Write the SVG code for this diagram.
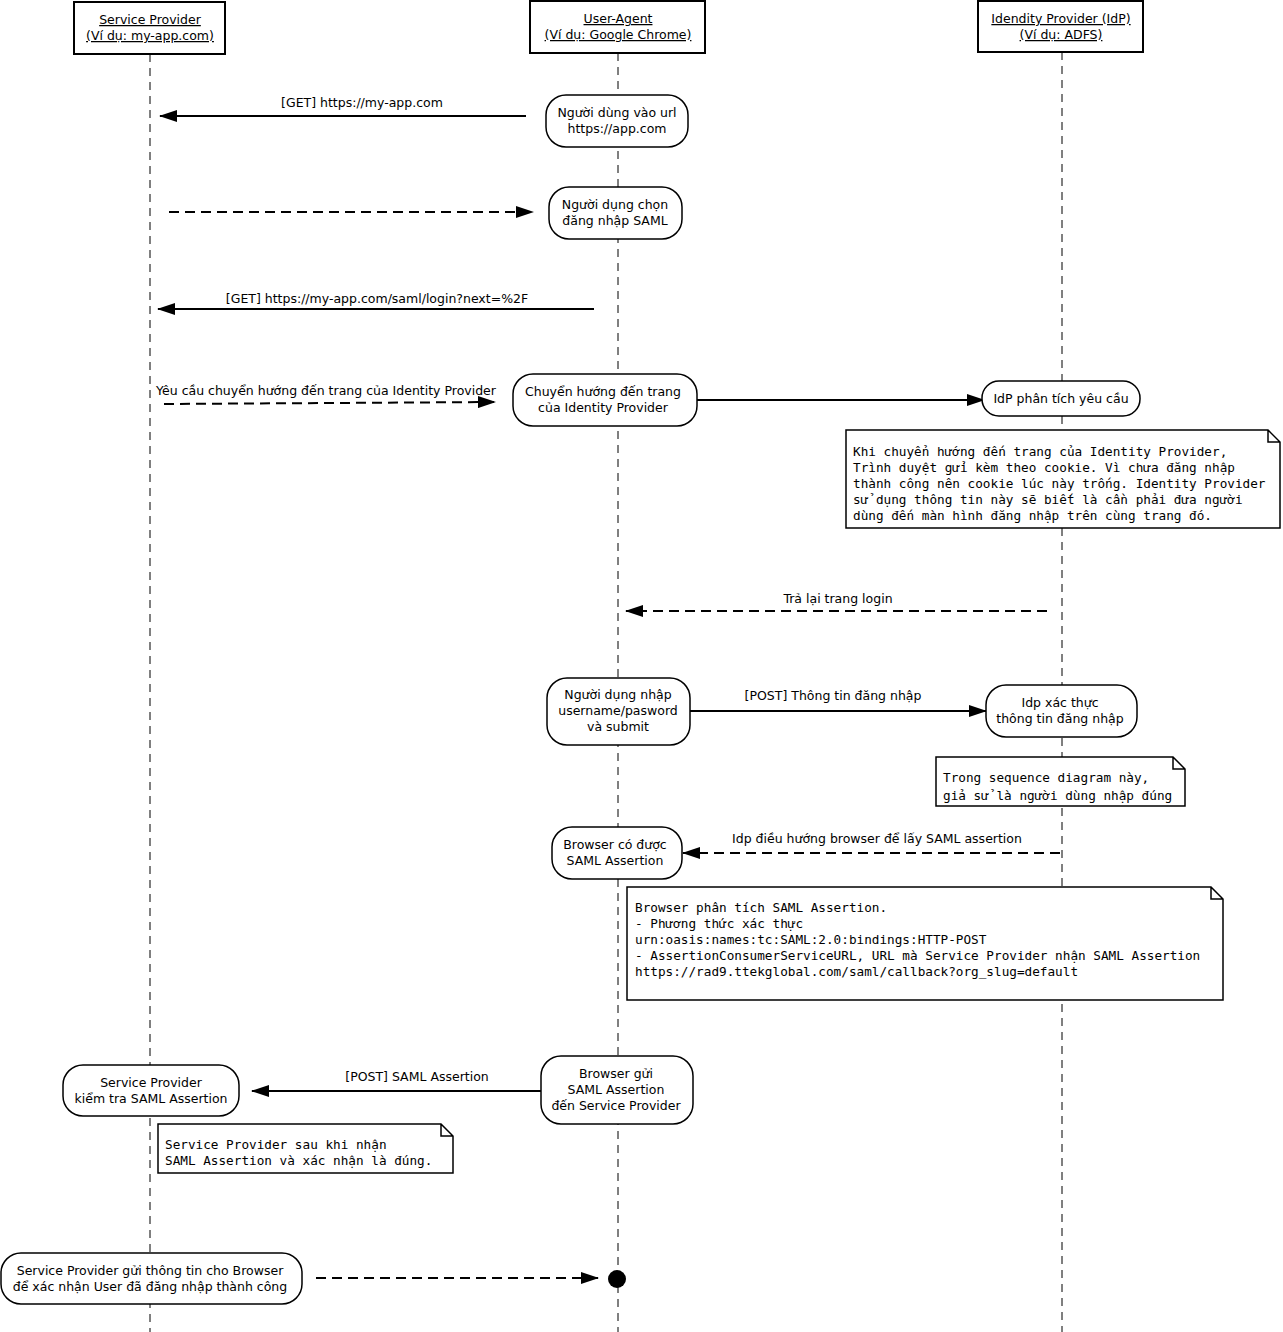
<svg xmlns="http://www.w3.org/2000/svg" width="1283" height="1332" viewBox="0 0 1283 1332">
<style>
text{font-family:"DejaVu Sans",sans-serif;font-size:12.5px;fill:#000;text-anchor:middle}
.h{text-decoration:underline}
.m{font-family:"DejaVu Sans Mono",monospace;font-size:12.7px;text-anchor:start}
.life{stroke:#000;stroke-width:1;stroke-dasharray:8,6;fill:none}
.box{fill:#fff;stroke:#000;stroke-width:2}
.node{fill:#fff;stroke:#000;stroke-width:1.5}
.note{fill:#fff;stroke:#000;stroke-width:1.5}
.s{stroke:#000;stroke-width:2;fill:none;marker-end:url(#a)}
.d{stroke:#000;stroke-width:2;fill:none;stroke-dasharray:10,6;marker-end:url(#a)}
</style>
<defs><marker id="a" markerWidth="18" markerHeight="12" refX="17" refY="6" orient="auto" markerUnits="userSpaceOnUse"><path d="M0,0 L18,6 L0,12 z" fill="#000"/></marker></defs>
<rect width="1283" height="1332" fill="#fff"/>
<g id="lifelines">
<line class="life" x1="150" y1="54" x2="150" y2="1332"/>
<line class="life" x1="618" y1="53" x2="618" y2="1332"/>
<line class="life" x1="1062" y1="52" x2="1062" y2="1332"/>
</g>
<g id="sp"><rect class="box" x="74" y="2" width="151" height="52"/><text class="h" x="150" y="24">Service Provider</text><text class="h" x="150" y="40">(Ví dụ: my-app.com)</text></g>
<g id="ua"><rect class="box" x="530" y="1" width="175" height="52"/><text class="h" x="618" y="23">User-Agent</text><text class="h" x="618" y="39">(Ví dụ: Google Chrome) </text></g>
<g id="idp"><rect class="box" x="978" y="1" width="165" height="51"/><text class="h" x="1061" y="23">Idendity Provider (IdP)</text><text class="h" x="1061" y="39">(Ví dụ: ADFS)</text></g>
<g id="connectors">
<line class="s" x1="526" y1="116" x2="160" y2="116"/>
<line class="d" x1="169" y1="212" x2="533" y2="212"/>
<line class="s" x1="594" y1="309" x2="158" y2="309"/>
<line class="d" x1="164" y1="404" x2="495" y2="402"/>
<line class="s" x1="697" y1="400" x2="984" y2="400"/>
<line class="d" x1="1047" y1="611" x2="626" y2="611"/>
<line class="s" x1="690" y1="711" x2="986" y2="711"/>
<line class="d" x1="1060" y1="853" x2="683" y2="853"/>
<line class="s" x1="541" y1="1091" x2="252" y2="1091"/>
<line class="d" x1="316" y1="1278" x2="598" y2="1278"/>
<text x="362" y="107">[GET] https://my-app.com</text>
<text x="377" y="303">[GET] https://my-app.com/saml/login?next=%2F</text>
<text x="326" y="395">Yêu cầu chuyển hướng đến trang của Identity Provider</text>
<text x="838" y="603">Trả lại trang login</text>
<text x="833" y="700">[POST] Thông tin đăng nhập</text>
<text x="877" y="843">Idp điều hướng browser để lấy SAML assertion</text>
<text x="417" y="1081">[POST] SAML Assertion</text>
</g>
<g id="n1"><rect class="node" x="546" y="95" width="142" height="52" rx="20"/><text x="617" y="117">Người dùng vào url</text><text x="617" y="133">https://app.com</text></g>
<g id="n2"><rect class="node" x="549" y="187" width="133" height="52" rx="20"/><text x="615" y="209">Người dụng chọn</text><text x="615" y="225">đăng nhập SAML</text></g>
<g id="n3"><rect class="node" x="513" y="374" width="184" height="52" rx="20"/><text x="603" y="396">Chuyển hướng đến trang</text><text x="603" y="412">của  Identity Provider</text></g>
<g id="n4"><rect class="node" x="982" y="381" width="158" height="35" rx="17"/><text x="1061" y="403">IdP phân tích yêu cầu</text></g>
<g id="note1"><path class="note" d="M846,430 H1268 L1280,442 V528 H846 Z M1268,430 V442 H1280"/>
<text class="m" x="853" y="456">Khi chuyển hướng đến trang của Identity Provider,</text>
<text class="m" x="853" y="472">Trình duyệt gửi kèm theo cookie. Vì chưa đăng nhập</text>
<text class="m" x="853" y="488">thành công nên cookie lúc này trống. Identity Provider</text>
<text class="m" x="853" y="504">sử dụng thông tin này sẽ biết là cần phải đưa người</text>
<text class="m" x="853" y="520">dùng đến màn hình đăng nhập trên cùng trang đó.</text></g>
<g id="n5"><rect class="node" x="547" y="678" width="143" height="67" rx="20"/><text x="618" y="699">Người dụng nhập</text><text x="618" y="715">username/pasword</text><text x="618" y="731">và submit</text></g>
<g id="n6"><rect class="node" x="986" y="685" width="151" height="52" rx="20"/><text x="1060" y="707">Idp xác thực</text><text x="1060" y="723">thông tin đăng nhập</text></g>
<g id="note2"><path class="note" d="M936,757 H1173 L1185,769 V806 H936 Z M1173,757 V769 H1185"/>
<text class="m" x="943" y="782">Trong sequence diagram này,</text>
<text class="m" x="943" y="800">giả sử là người dùng nhập đúng</text></g>
<g id="n7"><rect class="node" x="552" y="827" width="130" height="52" rx="20"/><text x="615" y="849">Browser có được</text><text x="615" y="865">SAML Assertion</text></g>
<g id="note3"><path class="note" d="M627,887 H1211 L1223,899 V1000 H627 Z M1211,887 V899 H1223"/>
<text class="m" x="635" y="912">Browser phân tích SAML Assertion.</text>
<text class="m" x="635" y="928">- Phương thức xác thực</text>
<text class="m" x="635" y="944">urn:oasis:names:tc:SAML:2.0:bindings:HTTP-POST</text>
<text class="m" x="635" y="960">- AssertionConsumerServiceURL, URL mà Service Provider nhận SAML Assertion</text>
<text class="m" x="635" y="976">https://rad9.ttekglobal.com/saml/callback?org_slug=default</text></g>
<g id="n8"><rect class="node" x="541" y="1056" width="152" height="68" rx="20"/><text x="616" y="1078">Browser gửi</text><text x="616" y="1094">SAML Assertion</text><text x="616" y="1110">đến Service Provider</text></g>
<g id="n9"><rect class="node" x="63" y="1065" width="176" height="51" rx="20"/><text x="151" y="1087">Service Provider</text><text x="151" y="1103">kiểm tra SAML Assertion</text></g>
<g id="note4"><path class="note" d="M158,1124 H441 L453,1136 V1173 H158 Z M441,1124 V1136 H453"/>
<text class="m" x="165" y="1149">Service Provider sau khi nhận</text>
<text class="m" x="165" y="1165">SAML Assertion và xác nhận là đúng.</text></g>
<g id="n10"><rect class="node" x="1" y="1253" width="301" height="51" rx="20"/><text x="150" y="1275">Service Provider gửi thông tin cho Browser</text><text x="150" y="1291">để xác nhận User đã đăng nhập thành công</text></g>
<g id="end"><circle cx="617" cy="1279" r="9" fill="#000"/></g>
</svg>
